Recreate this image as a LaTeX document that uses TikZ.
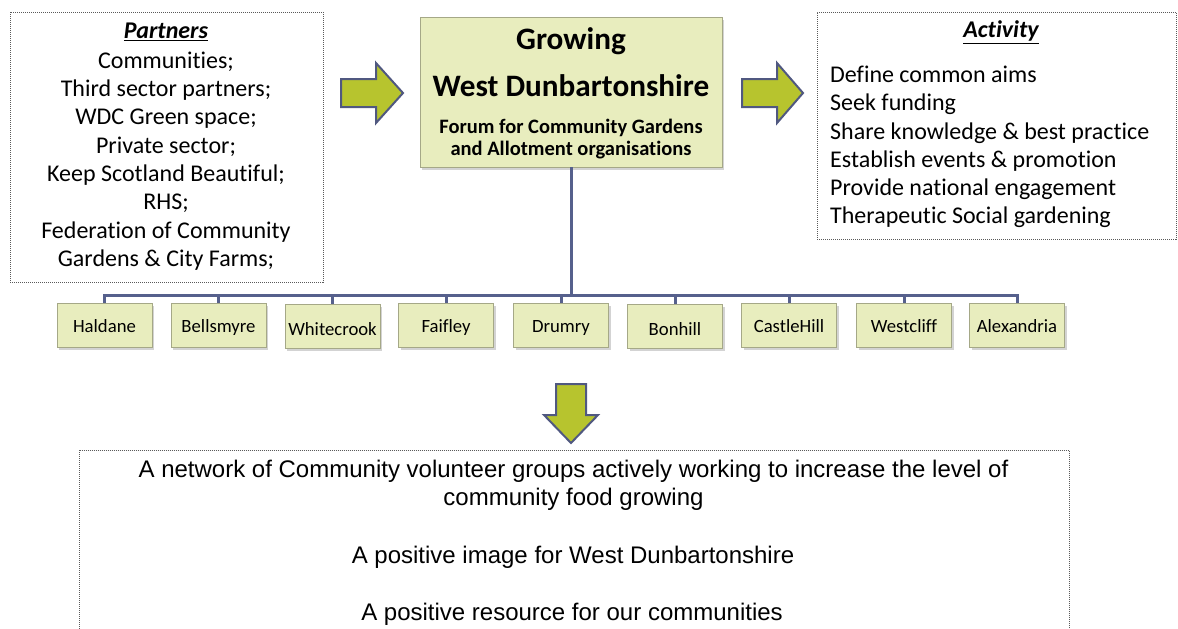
\documentclass[tikz,border=0pt]{standalone}
\usepackage{fontspec}
\setmainfont{Carlito}[Ligatures=NoCommon]
\newfontfamily\arialf{Liberation Sans}
\usetikzlibrary{shadows}
\definecolor{boxfill}{RGB}{232,237,190}
\definecolor{boxedge}{RGB}{165,168,135}
\definecolor{arrowfill}{RGB}{183,196,46}
\definecolor{arrowedge}{RGB}{80,88,128}
\definecolor{linecol}{RGB}{86,96,140}
\definecolor{dotcol}{RGB}{90,90,90}
\tikzset{
  infobox/.style={draw=dotcol, line width=0.8pt, dash pattern=on 1pt off 1pt, fill=white, inner sep=0pt},
  greenbox/.style={draw=boxedge, line width=0.8pt, fill=boxfill, inner sep=0pt,
     drop shadow={opacity=0.35, shadow xshift=2pt, shadow yshift=-2.5pt}},
  town/.style={greenbox, minimum width=95pt, minimum height=44pt, text height=16pt, text depth=2pt,
     font=\fontsize{18.7}{20}\selectfont},
  conn/.style={draw=linecol, line width=3pt},
  blockarrow/.style={fill=arrowfill, draw=arrowedge, line width=2pt, line join=miter},
  plain/.style={inner sep=0pt}
}
\begin{document}
\begin{tikzpicture}[x=1pt,y=-1pt]
\useasboundingbox (0,0) rectangle (1178,629);
\clip (0,0) rectangle (1178,629);

% Partners box
\node[infobox, minimum width=313pt, minimum height=270pt] (partners) at (166.5,147) {};
\node[plain, font=\fontsize{24}{26}\selectfont] (ptitle) at (166,32) {\textbf{\textit{\underline{Partners}}}};
\node[plain, align=center, font=\fontsize{24}{28.3}\selectfont] (plist) at (166,161)
 {Communities;\\Third sector partners;\\WDC Green space;\\Private sector;\\Keep Scotland Beautiful;\\RHS;\\Federation of Community\\Gardens \& City Farms;};

% Activity box
\node[infobox, minimum width=359pt, minimum height=227pt] (activity) at (996.5,125.5) {};
\node[plain, font=\fontsize{24}{26}\selectfont] (atitle) at (1001,32) {\textbf{\textit{\underline{Activity}}}};
\node[plain, align=left, anchor=west, font=\fontsize{24}{28.2}\selectfont] (alist) at (830,147)
 {Define common aims\\Seek funding\\Share knowledge \& best practice\\Establish events \& promotion\\Provide national engagement\\Therapeutic Social gardening};

% Center box
\node[greenbox, minimum width=302pt, minimum height=150pt] (forum) at (571,92) {};
\node[plain, font=\bfseries\fontsize{31.2}{34}\selectfont] (g1) at (571,41) {Growing};
\node[plain, font=\bfseries\fontsize{31.2}{34}\selectfont] (g2) at (571,86) {West Dunbartonshire};
\node[plain, align=center, font=\bfseries\fontsize{20.5}{22}\selectfont] (g3) at (571,139)
 {Forum for Community Gardens\\and Allotment organisations};

% Block arrows
\draw[blockarrow] (341,79) -- (376,79) -- (376,63) -- (403,93) -- (376,123) -- (376,107) -- (341,107) -- cycle;
\draw[blockarrow] (742,79) -- (777,79) -- (777,63) -- (803,93) -- (777,123) -- (777,107) -- (742,107) -- cycle;
\draw[blockarrow] (556,384) -- (586,384) -- (586,415) -- (598,415) -- (571,443) -- (544,415) -- (556,415) -- cycle;

% Bus
\coordinate (bus) at (571,295);
\draw[conn] (forum.south) -- (bus);

% Towns
\node[town] (haldane) at (104.5,325) {Haldane};
\node[town] (bellsmyre) at (218.5,325) {Bellsmyre};
\node[town] (whitecrook) at (332.5,326) {\raisebox{-2pt}{Whitecrook}};
\node[town] (faifley) at (446,325) {Faifley};
\node[town] (drumry) at (561,325) {Drumry};
\node[town] (bonhill) at (675,326) {\raisebox{-2pt}{Bonhill}};
\node[town] (castlehill) at (789,325) {CastleHill};
\node[town] (westcliff) at (904,325) {Westcliff};
\node[town] (alexandria) at (1017,325) {Alexandria};
\foreach \t in {haldane,bellsmyre,whitecrook,faifley,drumry,bonhill,castlehill,westcliff,alexandria}
  \draw[conn] (bus) -| (\t.north);

% Result box
\node[infobox, minimum width=990pt, minimum height=200pt, anchor=north west] (result) at (79,450) {};
\node[plain, align=center, font=\arialf\fontsize{24}{28}\selectfont] (r1) at (573.5,485)
 {A network of Community volunteer groups actively working to increase the level of\\community food growing};
\node[plain, font=\arialf\fontsize{24}{28}\selectfont] (r2) at (573,557) {A positive image for West Dunbartonshire};
\node[plain, font=\arialf\fontsize{24}{28}\selectfont] (r3) at (572,614) {A positive resource for our communities};
\end{tikzpicture}
\end{document}
